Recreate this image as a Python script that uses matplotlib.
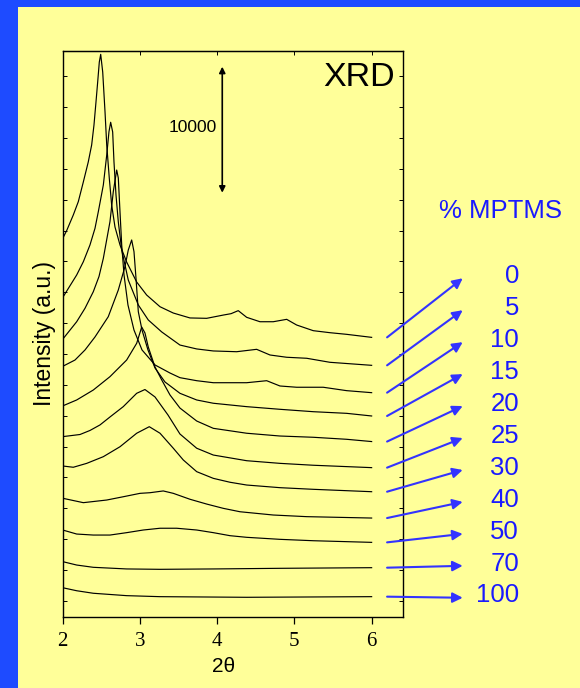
import matplotlib
matplotlib.use('Agg')
import matplotlib.pyplot as plt
from matplotlib.patches import Rectangle

# ---------------- data (2theta in degrees, intensity in thousands of counts, stacked) ----
mptms_labels = ['0', '5', '10', '15', '20', '25', '30', '40', '50', '70', '100']

tt_0 = [2.000, 2.052, 2.137, 2.202, 2.267, 2.331, 2.375, 2.405, 2.431, 2.453, 2.474, 2.492,
        2.518, 2.548, 2.570, 2.603, 2.634, 2.677, 2.742, 2.828, 2.958, 3.087, 3.260, 3.432,
        3.648, 3.864, 4.080, 4.180, 4.273, 4.382, 4.554, 4.726, 4.900, 5.029, 5.244, 5.460,
        5.676, 6.000]
I_0 = [30.02, 30.65, 31.88, 32.94, 34.50, 36.09, 37.44, 39.02, 40.85, 42.44, 44.02, 44.63,
       43.23, 40.06, 37.44, 34.82, 32.67, 30.93, 29.50, 28.15, 26.56, 25.53, 24.60, 24.10,
       23.71, 23.68, 23.94, 24.05, 24.29, 23.76, 23.41, 23.41, 23.60, 23.15, 22.70, 22.54,
       22.41, 22.17]

tt_1 = [2.000, 2.181, 2.267, 2.353, 2.418, 2.461, 2.526, 2.570, 2.599, 2.621, 2.647, 2.664,
        2.690, 2.720, 2.764, 2.849, 2.979, 3.108, 3.282, 3.518, 3.735, 3.950, 4.252, 4.511,
        4.684, 4.900, 5.159, 5.460, 6.000]
I_1 = [25.33, 27.12, 28.17, 29.50, 30.82, 32.14, 34.26, 36.64, 38.49, 39.24, 38.47, 36.09,
       33.47, 31.33, 29.10, 26.72, 24.74, 23.55, 22.60, 21.56, 21.25, 21.09, 21.03, 21.22,
       20.77, 20.59, 20.51, 20.19, 19.95]

tt_2 = [2.000, 2.181, 2.289, 2.396, 2.470, 2.526, 2.612, 2.655, 2.699, 2.720, 2.742, 2.764,
        2.794, 2.845, 2.923, 3.027, 3.195, 3.389, 3.518, 3.735, 3.950, 4.382, 4.641, 4.813,
        5.029, 5.373, 5.676, 6.000]
I_2 = [22.02, 23.41, 24.48, 25.79, 27.00, 28.44, 31.35, 33.73, 35.45, 34.82, 32.12, 29.50,
       27.12, 24.74, 22.75, 21.17, 19.98, 19.34, 18.97, 18.73, 18.57, 18.57, 18.73, 18.31,
       18.21, 18.21, 17.94, 17.78]

tt_3 = [2.000, 2.159, 2.289, 2.418, 2.590, 2.720, 2.806, 2.849, 2.893, 2.923, 2.949, 2.979,
        3.027, 3.104, 3.195, 3.324, 3.518, 3.735, 3.950, 4.382, 4.813, 5.244, 5.676, 6.000]
I_3 = [19.87, 20.37, 21.17, 22.20, 23.81, 25.93, 27.78, 29.10, 29.90, 28.97, 26.86, 24.21,
       22.75, 21.17, 19.74, 18.63, 17.73, 17.20, 16.94, 16.67, 16.46, 16.27, 16.14, 15.93]

tt_4 = [2.000, 2.181, 2.396, 2.612, 2.828, 2.958, 3.023, 3.065, 3.108, 3.195, 3.282, 3.389,
        3.518, 3.735, 3.950, 4.382, 4.813, 5.244, 5.676, 6.000]
I_4 = [16.73, 17.20, 17.99, 19.05, 20.37, 21.70, 22.99, 22.52, 21.40, 19.82, 18.79, 17.60,
       16.56, 15.53, 14.95, 14.56, 14.34, 14.24, 14.08, 13.90]

tt_5 = [2.000, 2.224, 2.353, 2.483, 2.612, 2.784, 2.958, 3.065, 3.195, 3.363, 3.518, 3.735,
        3.950, 4.382, 4.813, 5.244, 6.000]
I_5 = [14.29, 14.46, 14.78, 15.22, 15.85, 16.67, 17.73, 18.03, 17.44, 16.01, 14.50, 13.37,
       12.83, 12.38, 12.17, 12.02, 11.83]

tt_6 = [2.000, 2.137, 2.311, 2.526, 2.742, 2.958, 3.121, 3.260, 3.432, 3.561, 3.735, 3.950,
        4.166, 4.382, 4.813, 5.244, 6.000]
I_6 = [11.96, 11.86, 12.17, 12.70, 13.49, 14.56, 15.08, 14.56, 13.37, 12.44, 11.51, 10.98,
       10.67, 10.45, 10.24, 10.11, 9.92]

tt_7 = [2.000, 2.267, 2.570, 2.784, 3.001, 3.130, 3.302, 3.432, 3.648, 3.864, 4.079, 4.295,
        4.726, 5.159, 6.000]
I_7 = [9.40, 9.05, 9.26, 9.52, 9.79, 9.84, 9.98, 9.79, 9.32, 8.94, 8.60, 8.33, 8.07, 7.94, 7.83]

tt_8 = [2.000, 2.181, 2.396, 2.612, 2.828, 3.043, 3.260, 3.476, 3.735, 3.950, 4.166, 4.382,
        4.813, 5.244, 6.000]
I_8 = [6.88, 6.56, 6.48, 6.48, 6.67, 6.88, 7.02, 7.02, 6.88, 6.67, 6.43, 6.30, 6.14, 6.03, 5.90]

tt_9 = [2.000, 2.181, 2.396, 2.828, 3.260, 3.950, 4.813, 6.000]
I_9 = [4.37, 4.10, 3.92, 3.79, 3.76, 3.79, 3.84, 3.89]

tt_10 = [2.000, 2.181, 2.396, 2.828, 3.260, 4.382, 6.000]
I_10 = [2.30, 2.06, 1.86, 1.67, 1.59, 1.54, 1.59]

x_ticks = [2, 3, 4, 5, 6]
scale_bar_value = 10  # thousands of counts
scale_bar_label = '10000'

series_x = [tt_0, tt_1, tt_2, tt_3, tt_4, tt_5, tt_6, tt_7, tt_8, tt_9, tt_10]
series_y = [I_0, I_1, I_2, I_3, I_4, I_5, I_6, I_7, I_8, I_9, I_10]

# ---------------- style ----------------
YELLOW = '#FFFF99'
BORDER_BLUE = '#1E4BFF'
TEXT_BLUE = '#1A1AFF'
ARROW_BLUE = '#3333FF'
SANS = ['Liberation Sans', 'DejaVu Sans']
SERIF = ['Liberation Serif', 'DejaVu Serif']

W, H = 580, 688
fig = plt.figure(figsize=(W / 100, H / 100), dpi=100)
fig.patch.set_facecolor(BORDER_BLUE)
fig.add_artist(Rectangle((18 / W, 0), 1 - 18 / W, 1 - 7 / H, transform=fig.transFigure,
                         facecolor=YELLOW, edgecolor='none', zorder=-10))

ax_l, ax_r, ax_t, ax_b = 62.7, 403.3, 50.7, 616.7
ax = fig.add_axes([ax_l / W, 1 - ax_b / H, (ax_r - ax_l) / W, (ax_b - ax_t) / H])
ax.set_facecolor('none')

for xs, ys in zip(series_x, series_y):
    ax.plot(xs, ys, color='black', lw=0.85, solid_joinstyle='round')

ax.set_xlim(2, 6.41)
ax.set_ylim(0, 44.92)

for sp in ax.spines.values():
    sp.set_linewidth(1.0)

ax.set_xticks(x_ticks)
ax.set_xticklabels([str(t) for t in x_ticks], fontfamily=SERIF, fontsize=15)
ax.tick_params(axis='x', which='major', direction='out', length=5, width=0.9, pad=6,
               top=False)
yt = [1.25 + 2.45 * i for i in range(18)]
ax.set_yticks(yt)
ax.tick_params(axis='y', which='major', direction='in', length=3, width=0.7,
               left=True, right=True, labelleft=False)
sec = ax.secondary_xaxis('top')
sec.set_xticks(x_ticks)
sec.tick_params(direction='in', length=3, width=0.7, labeltop=False)

ax.set_xlabel('2θ', fontfamily=SANS, fontsize=15, labelpad=4)
ax.xaxis.label.set_x((223.8 - ax_l) / (ax_r - ax_l))
ax.set_ylabel('Intensity (a.u.)', fontfamily=SANS, fontsize=16.5, labelpad=5)

# XRD label
ax.text(0.976, 0.952, 'XRD', transform=ax.transAxes, ha='right', va='center',
        fontfamily=SANS, fontsize=24.5)

# scale bar
bar_x = 4.066
bar_bottom = 33.65
ax.annotate('', xy=(bar_x, bar_bottom + scale_bar_value), xytext=(bar_x, bar_bottom),
            arrowprops=dict(arrowstyle='<|-|>', color='black', lw=1.2, mutation_scale=9,
                            shrinkA=0, shrinkB=0))
ax.text(bar_x - 0.07, bar_bottom + 0.52 * scale_bar_value, scale_bar_label,
        ha='right', va='center', fontfamily=SANS, fontsize=12.5)

# series labels and arrows
ax.text((501 - ax_l) / (ax_r - ax_l), (ax_b - 210.7) / (ax_b - ax_t), '% MPTMS',
        transform=ax.transAxes, ha='center', va='center', color=TEXT_BLUE,
        fontfamily=SANS, fontsize=18.5)

lab_x = (519 - ax_l) / (ax_r - ax_l)
head_x = (462.7 - ax_l) / (ax_r - ax_l)
base = (ax_b - 595.5) / (ax_b - ax_t)
step = 31.95 / (ax_b - ax_t)
n = len(mptms_labels)
for i, (lab, ys) in enumerate(zip(mptms_labels, series_y)):
    yf = base + (n - 1 - i) * step
    ax.text(lab_x, yf, lab, transform=ax.transAxes, ha='right', va='center',
            color=TEXT_BLUE, fontfamily=SANS, fontsize=18.5, clip_on=False)
    ax.annotate('', xy=(head_x, yf - 0.004), xycoords='axes fraction',
                xytext=(6.2, ys[-1]), textcoords='data',
                arrowprops=dict(arrowstyle='-|>', color=ARROW_BLUE, lw=1.5,
                                mutation_scale=15, shrinkA=0, shrinkB=0),
                annotation_clip=False)

fig.savefig('out.png', dpi=100, facecolor=fig.get_facecolor())
